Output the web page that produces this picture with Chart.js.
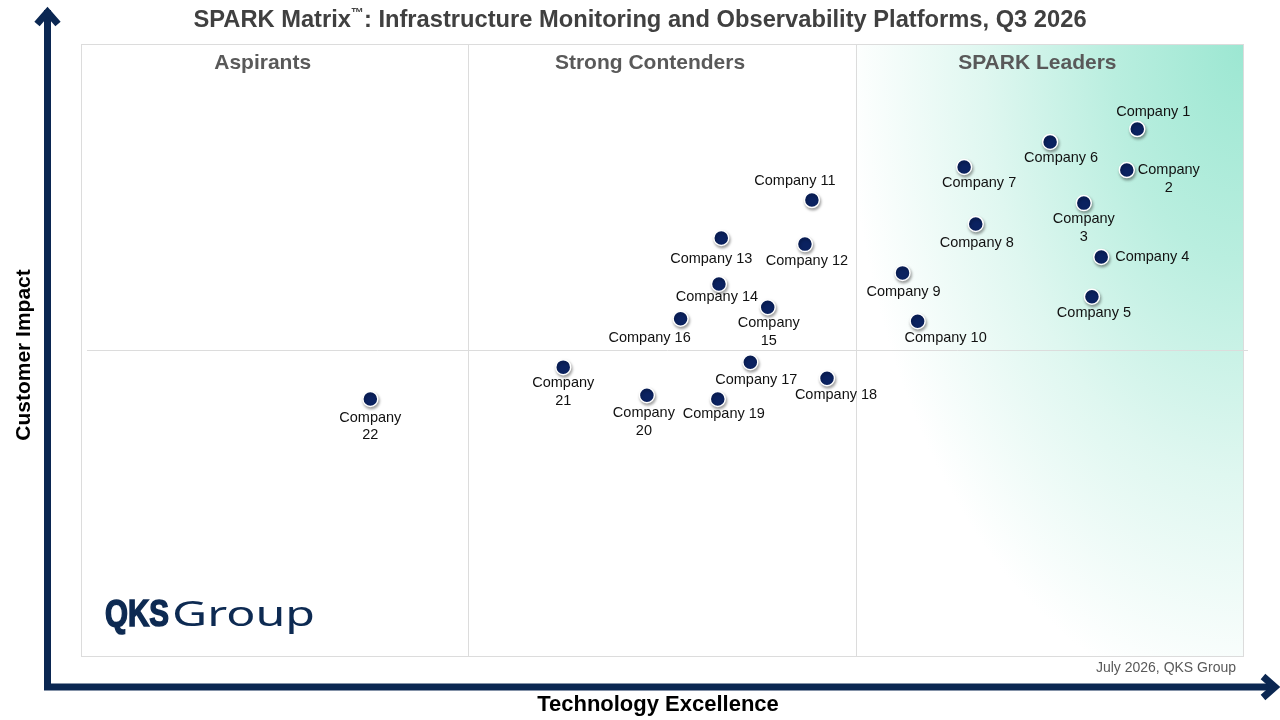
<!DOCTYPE html>
<html>
<head>
<meta charset="utf-8">
<title>SPARK Matrix - Infrastructure Monitoring and Observability Platforms</title>
<script src="https://cdn.jsdelivr.net/npm/chart.js@4.4.1/dist/chart.umd.min.js"></script>
<style>
  html, body { margin: 0; padding: 0; background: #ffffff; }
  canvas { display: block; }
</style>
</head>
<body>
<canvas id="matrix" width="1280" height="720"></canvas>
<script>
const companies = [
  "Company 1", "Company 2", "Company 3", "Company 4", "Company 5", "Company 6",
  "Company 7", "Company 8", "Company 9", "Company 10", "Company 11", "Company 12",
  "Company 13", "Company 14", "Company 15", "Company 16", "Company 17", "Company 18",
  "Company 19", "Company 20", "Company 21", "Company 22",
];
const techExcellence = [
  90.9, 90.0, 86.3, 87.8, 87.0, 83.4, 76.0, 77.0, 70.7, 72.0, 62.9,
  62.3, 55.1, 54.9, 59.1, 51.6, 57.6, 64.2, 54.8, 48.7, 41.5, 24.9,
];
const customerImpact = [
  86.1, 79.4, 74.0, 65.2, 58.7, 84.0, 79.9, 70.6, 62.6, 54.7, 74.5,
  67.3, 68.3, 60.8, 57.0, 55.1, 48.0, 45.4, 42.0, 42.6, 47.2, 42.0,
];
const quadrants = ["Aspirants", "Strong Contenders", "SPARK Leaders"];
const quadrantEdges = [0, 100 / 3, 200 / 3, 100];

// where each name sits relative to its marker (px) and whether it wraps
const labelPlacement = [
  [16, -17, false], [42, 0, true], [0, 16, true], [51, 0, false], [2, 16, false],
  [11, 16, false], [15, 16, false], [1, 19, false], [1, 19, false], [28, 17, false],
  [-17, -19, false], [2, 17, false], [-10, 21, false], [-2, 13, false], [1, 16, true],
  [-31, 19, false], [6, 18, false], [9, 17, false], [6, 15, false], [-3, 18, true],
  [0, 16, true], [0, 19, true],
];

const NAVY = "#0b2752";
const FONT = '"Liberation Sans", Arial, sans-serif';

const matrixBackground = {
  id: "matrixBackground",
  beforeDatasetsDraw(chart) {
    const { ctx, chartArea: a, scales } = chart;
    const x = scales.x;
    const y = scales.y;
    const leadersLeft = x.getPixelForValue(quadrantEdges[2]);

    // teal wash in the leaders column, strongest at the top right
    ctx.save();
    ctx.beginPath();
    ctx.rect(leadersLeft, a.top, a.right - leadersLeft, a.bottom - a.top);
    ctx.clip();
    ctx.translate(a.right, a.top);
    ctx.scale(0.6, 1);
    const g = ctx.createRadialGradient(0, 0, 0, 0, 0, 720);
    g.addColorStop(0, "#9ce7d2");
    g.addColorStop(0.3, "#b9eedf");
    g.addColorStop(0.6, "#dff7f0");
    g.addColorStop(0.92, "#ffffff");
    ctx.fillStyle = g;
    ctx.fillRect(-2200, -10, 2400, 800);
    ctx.restore();

    ctx.save();
    ctx.strokeStyle = "#dcdcdc";
    ctx.lineWidth = 1;
    ctx.strokeRect(a.left + 0.5, a.top + 0.5, a.right - a.left, a.bottom - a.top);
    ctx.beginPath();
    [quadrantEdges[1], quadrantEdges[2]].forEach((v) => {
      const px = Math.round(x.getPixelForValue(v)) + 0.5;
      ctx.moveTo(px, a.top);
      ctx.lineTo(px, a.bottom);
    });
    const midY = Math.round(y.getPixelForValue(50)) + 0.5;
    ctx.moveTo(a.left + 6, midY);
    ctx.lineTo(a.right + 5, midY);
    ctx.stroke();

    ctx.fillStyle = "#595959";
    ctx.font = "bold 21px " + FONT;
    ctx.textAlign = "center";
    ctx.textBaseline = "middle";
    quadrants.forEach((q, i) => {
      const cx = (x.getPixelForValue(quadrantEdges[i]) + x.getPixelForValue(quadrantEdges[i + 1])) / 2;
      ctx.fillText(q, cx - 12, a.top + 19);
    });
    ctx.restore();
  },
};

const markerShadow = {
  id: "markerShadow",
  beforeDatasetDraw(chart) {
    const ctx = chart.ctx;
    ctx.save();
    ctx.shadowColor = "rgba(0, 0, 0, 0.35)";
    ctx.shadowBlur = 3;
    ctx.shadowOffsetX = 1;
    ctx.shadowOffsetY = 2;
  },
  afterDatasetDraw(chart) {
    chart.ctx.restore();
  },
};

const companyLabels = {
  id: "companyLabels",
  afterDatasetsDraw(chart) {
    const { ctx } = chart;
    const points = chart.getDatasetMeta(0).data;
    ctx.save();
    ctx.font = "14.5px " + FONT;
    ctx.fillStyle = "#111111";
    ctx.textAlign = "center";
    ctx.textBaseline = "middle";
    points.forEach((pt, i) => {
      const [dx, dy, wrap] = labelPlacement[i];
      const lines = wrap ? companies[i].split(" ") : [companies[i]];
      lines.forEach((line, k) => {
        ctx.fillText(line, pt.x + dx, pt.y + dy + k * 17.5);
      });
    });
    ctx.restore();
  },
};

const frameAndTitles = {
  id: "frameAndTitles",
  afterDraw(chart) {
    const { ctx } = chart;
    ctx.save();

    // title with a raised trademark sign
    const head = "SPARK Matrix";
    const tm = "\u2122";
    const tail = ": Infrastructure Monitoring and Observability Platforms, Q3 2026";
    ctx.fillStyle = "#404040";
    ctx.textBaseline = "middle";
    ctx.textAlign = "left";
    ctx.font = "bold 23.7px " + FONT;
    const wHead = ctx.measureText(head).width;
    const wTail = ctx.measureText(tail).width;
    ctx.font = "bold 13px " + FONT;
    const wTm = ctx.measureText(tm).width;
    const tx = 640 - (wHead + wTm + wTail) / 2;
    ctx.font = "bold 23.7px " + FONT;
    ctx.fillText(head, tx, 20);
    ctx.font = "bold 13px " + FONT;
    ctx.fillText(tm, tx + wHead, 13);
    ctx.font = "bold 23.7px " + FONT;
    ctx.fillText(tail, tx + wHead + wTm, 20);

    // axis arrows
    ctx.strokeStyle = NAVY;
    ctx.lineWidth = 7;
    ctx.lineCap = "butt";
    ctx.lineJoin = "miter";
    ctx.beginPath();
    ctx.moveTo(47.5, 10);
    ctx.lineTo(47.5, 687);
    ctx.lineTo(1275, 687);
    ctx.stroke();
    ctx.beginPath();
    ctx.moveTo(37, 24);
    ctx.lineTo(47.5, 12);
    ctx.lineTo(58, 24);
    ctx.stroke();
    ctx.beginPath();
    ctx.moveTo(1263, 676.5);
    ctx.lineTo(1275, 687);
    ctx.lineTo(1263, 697.5);
    ctx.stroke();

    // axis titles
    ctx.fillStyle = "#000000";
    ctx.textAlign = "center";
    ctx.font = "bold 22px " + FONT;
    ctx.fillText("Technology Excellence", 658, 705);
    ctx.font = "bold 21px " + FONT;
    ctx.save();
    ctx.translate(24, 355);
    ctx.rotate(-Math.PI / 2);
    ctx.fillText("Customer Impact", 0, 0);
    ctx.restore();

    // source note
    ctx.fillStyle = "#595959";
    ctx.font = "14px " + FONT;
    ctx.textAlign = "right";
    ctx.fillText("July 2026, QKS Group", 1236, 668);

    // logo
    ctx.fillStyle = "#0d2a52";
    ctx.strokeStyle = "#0d2a52";
    ctx.textAlign = "left";
    ctx.textBaseline = "alphabetic";
    ctx.font = 'bold 37px "Liberation Sans", Arial, sans-serif';
    const qks = ctx.measureText("QKS").width;
    ctx.save();
    ctx.translate(105, 626);
    ctx.scale(64 / qks, 1);
    ctx.lineWidth = 1.6;
    ctx.fillText("QKS", 0, 0);
    ctx.strokeText("QKS", 0, 0);
    ctx.restore();
    ctx.font = '35px "Noto Sans", "Liberation Sans", sans-serif';
    const grp = ctx.measureText("Group").width;
    ctx.save();
    ctx.translate(172, 626);
    ctx.scale(143 / grp, 1);
    ctx.fillText("Group", 0, 0);
    ctx.restore();

    ctx.restore();
  },
};

new Chart(document.getElementById("matrix"), {
  type: "scatter",
  data: {
    labels: companies,
    datasets: [
      {
        label: "Vendors",
        data: techExcellence.map((v, i) => ({ x: v, y: customerImpact[i] })),
        pointRadius: 7.5,
        pointHoverRadius: 7.5,
        backgroundColor: "#0b2260",
        borderColor: "#ffffff",
        borderWidth: 1.5,
      },
    ],
  },
  options: {
    responsive: false,
    animation: false,
    layout: { padding: { left: 81, top: 44, right: 37, bottom: 64 } },
    scales: {
      x: { type: "linear", min: 0, max: 100, display: false },
      y: { type: "linear", min: 0, max: 100, display: false },
    },
    plugins: {
      legend: { display: false },
      tooltip: { enabled: false },
      title: { display: false },
    },
  },
  plugins: [matrixBackground, markerShadow, companyLabels, frameAndTitles],
});
</script>
</body>
</html>
